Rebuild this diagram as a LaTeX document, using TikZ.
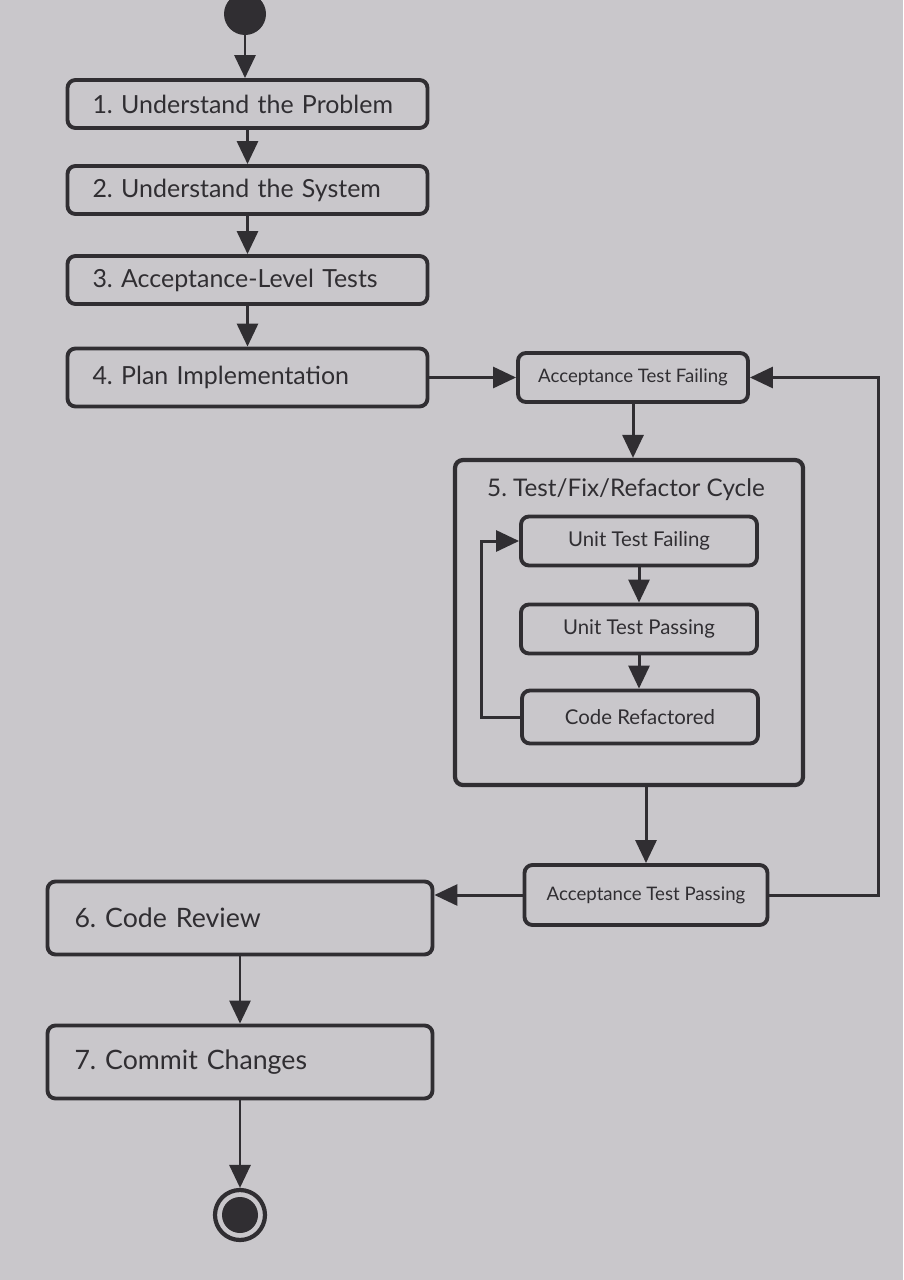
\documentclass[tikz,border=0pt]{standalone}
\usepackage{fontspec}
\setmainfont{Lato}
\usetikzlibrary{arrows.meta}
\definecolor{paper}{RGB}{201,199,203}
\definecolor{ink}{RGB}{48,46,50}
\frenchspacing

\begin{document}
\begin{tikzpicture}[
  stagebox/.style={draw=ink, line width=2.2pt, rounded corners=0.16cm, fill=paper, text=ink, font=\fontsize{14.2}{17}\selectfont, minimum height=0.96cm, text width=6.2cm, inner xsep=0.5cm, align=left},
  widebox/.style={stagebox, minimum height=1.46cm, text width=6.62cm, inner xsep=0.54cm, font=\fontsize{15.2}{18}\selectfont},
  statebox/.style={draw=ink, line width=2.2pt, rounded corners=0.16cm, fill=paper, text=ink, font=\fontsize{10.6}{13}\selectfont, minimum height=0.98cm, align=center},
  unitbox/.style={statebox, minimum width=4.72cm, font=\fontsize{11.6}{14}\selectfont},
  cyclebox/.style={draw=ink, line width=2.4pt, rounded corners=0.16cm, fill=paper, minimum width=6.96cm, minimum height=6.5cm},
  initial/.style={circle, fill=ink, minimum size=0.84cm, inner sep=0pt},
  final/.style={circle, draw=ink, line width=2.4pt, fill=paper, minimum size=1.0cm, inner sep=0pt, path picture={\fill[ink] (path picture bounding box.center) circle (0.36cm);}},
  arrow/.style={-{Triangle[length=0.46cm,width=0.42cm]}, line width=1.7pt, draw=ink}
]
\fill[paper] (0,0) rectangle (18.06,-25.6);
\useasboundingbox (0,0) rectangle (18.06,-25.6);

\node[initial] (start) at (4.9,-0.28) {};
\node[stagebox] (problem) at (4.95,-2.08) {1. Understand the Problem};
\node[stagebox] (system) at (4.95,-3.8) {2. Understand the System};
\node[stagebox] (acceptance) at (4.95,-5.6) {3. Acceptance-Level Tests};
\node[stagebox, minimum height=1.16cm] (plan) at (4.95,-7.55) {4. Plan Implementation};

\node[statebox, minimum width=4.6cm] (atfail) at (12.66,-7.55) {Acceptance Test Failing};
\node[cyclebox] (cycle) at (12.58,-12.45) {};
\node[anchor=west, text=ink, font=\fontsize{13.8}{16}\selectfont] (cycletitle) at (9.62,-9.8) {5. Test/Fix/Refactor Cycle};
\node[unitbox] (utfail) at (12.78,-10.82) {Unit Test Failing};
\node[unitbox] (utpass) at (12.78,-12.58) {Unit Test Passing};
\node[unitbox, minimum height=1.06cm] (refactored) at (12.8,-14.34) {Code Refactored};
\node[statebox, minimum width=4.86cm, minimum height=1.2cm] (atpass) at (12.92,-17.9) {Acceptance Test Passing};

\node[widebox] (review) at (4.8,-18.36) {6. Code Review};
\node[widebox] (commit) at (4.8,-21.24) {7. Commit Changes};
\node[final] (finish) at (4.8,-24.3) {};

\draw[arrow] (start) -- (start |- problem.north);
\draw[arrow] (problem) -- (system);
\draw[arrow] (system) -- (acceptance);
\draw[arrow] (acceptance) -- (plan);
\draw[arrow] (plan) -- (atfail);
\draw[arrow] (atfail.south) -- (atfail.south |- cycle.north);
\draw[arrow] (utfail) -- (utpass);
\draw[arrow] (utpass.south) -- (utpass.south |- refactored.north);
\draw[arrow] (refactored.west) -- ++(-0.78,0) |- (utfail.west);
\draw[arrow] (atpass.north |- cycle.south) -- (atpass.north);
\draw[arrow] (atpass.east) -- ++(2.18,0) |- (atfail.east);
\draw[arrow] (atpass.west) -- (atpass.west -| review.east);
\draw[arrow] (review) -- (commit);
\draw[arrow] (commit) -- (finish);
\end{tikzpicture}
\end{document}
